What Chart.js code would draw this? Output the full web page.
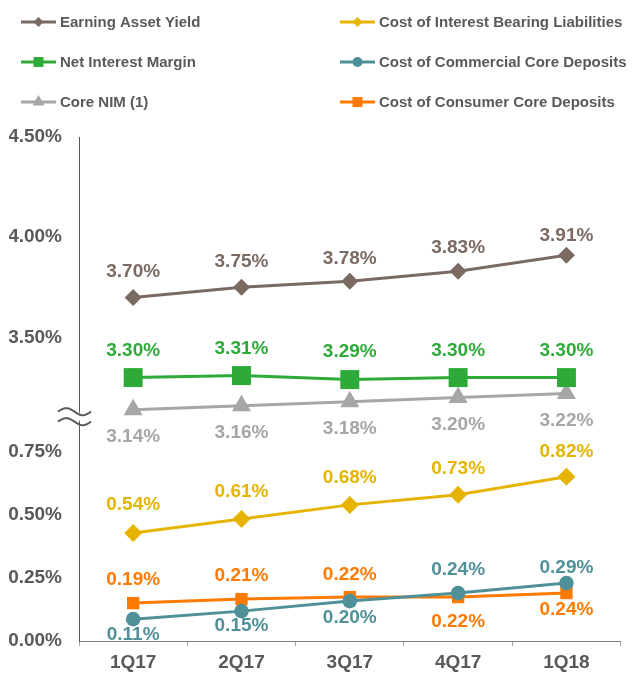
<!DOCTYPE html>
<html>
<head>
<meta charset="utf-8">
<script src="https://cdn.jsdelivr.net/npm/chart.js@4.4.0/dist/chart.umd.min.js"></script>
<style>
  html, body { margin: 0; padding: 0; background: #fff; }
  #wrap { width: 634px; height: 683px; position: relative; }
</style>
</head>
<body>
<div id="wrap"><canvas id="c"></canvas></div>
<script>
// quarters and rates (%)
const quarters = ['1Q17', '2Q17', '3Q17', '4Q17', '1Q18'];
const earningAssetYield = [3.70, 3.75, 3.78, 3.83, 3.91];
const netInterestMargin = [3.30, 3.31, 3.29, 3.30, 3.30];
const coreNim = [3.14, 3.16, 3.18, 3.20, 3.22];
const costInterestBearing = [0.54, 0.61, 0.68, 0.73, 0.82];
const costCommercial = [0.11, 0.15, 0.20, 0.24, 0.29];
const costConsumer = [0.19, 0.21, 0.22, 0.22, 0.24];

// tick labels either side of the axis break
const lowTicks = [0.00, 0.25, 0.50, 0.75];
const highTicks = [3.50, 4.00, 4.50];

// broken axis: upper part is shifted down, lower tick labels are spread out (as on the slide)
const HIGH_SHIFT = 1.985;
const LOW_TICK_STRETCH = 1.26;
const BREAK_AT = 1.12;

const toAxis = v => (v >= 2 ? v - HIGH_SHIFT : v);
const tickDefs = [
  ...lowTicks.map(t => ({ pos: t * LOW_TICK_STRETCH, text: t.toFixed(2) + '%' })),
  ...highTicks.map(t => ({ pos: t - HIGH_SHIFT, text: t.toFixed(2) + '%' }))
];

const TEXT = '#595959';
const FONT = '"Liberation Sans", Arial, sans-serif';

// labelOffsets: pixels from the point to the label centre, negative = above
function series(label, values, color, style, radius, legendRadius, labelOffsets) {
  return {
    label,
    raw: values,
    data: values.map(toAxis),
    borderColor: color,
    backgroundColor: color,
    pointBackgroundColor: color,
    pointBorderColor: color,
    borderWidth: 3,
    pointStyle: style,
    pointRadius: radius,
    pointBorderWidth: 0,
    legendRadius,
    labelOffsets,
    clip: false,
    tension: 0
  };
}

const datasets = [
  series('Earning Asset Yield', earningAssetYield, '#7a6a62', 'rectRot', 8.5, 5, [-26, -26, -23, -24, -20]),
  series('Net Interest Margin', netInterestMargin, '#2eaa38', 'rect', 13.4, 7, [-27, -27, -28, -27, -27]),
  series('Core NIM (1)', coreNim, '#a6a6a6', 'triangle', 11, 7, [27, 27, 27, 27, 27]),
  series('Cost of Interest Bearing Liabilities', costInterestBearing, '#e6b400', 'rectRot', 9, 5, [-28, -27, -27, -26, -25]),
  series('Cost of Commercial Core Deposits', costCommercial, '#4f9099', 'circle', 7.3, 5, [16, 15, 17, -23, -15]),
  series('Cost of Consumer Core Deposits', costConsumer, '#ff7a00', 'rect', 8.7, 7, [-23, -23, -22, 25, 17])
];

// legend in two columns of three
const legendPlugin = {
  id: 'twoColLegend',
  afterDraw(chart) {
    const ctx = chart.ctx;
    const colX = [21, 340];
    const rowY = [22, 62, 102];
    ctx.save();
    chart.data.datasets.forEach((ds, i) => {
      const x = colX[Math.floor(i / 3)];
      const y = rowY[i % 3];
      ctx.strokeStyle = ds.borderColor;
      ctx.lineWidth = 3;
      ctx.beginPath();
      ctx.moveTo(x, y);
      ctx.lineTo(x + 35, y);
      ctx.stroke();
      ctx.fillStyle = ds.borderColor;
      Chart.helpers.drawPoint(ctx, { pointStyle: ds.pointStyle, radius: ds.legendRadius, rotation: 0, borderWidth: 0 }, x + 17.5, y);
      ctx.fillStyle = TEXT;
      ctx.font = 'bold 15px ' + FONT;
      ctx.textAlign = 'left';
      ctx.textBaseline = 'middle';
      ctx.fillText(ds.label, x + 39, y + 1);
    });
    ctx.restore();
  }
};

// value labels above / below each point
const valueLabels = {
  id: 'valueLabels',
  afterDatasetsDraw(chart) {
    const ctx = chart.ctx;
    ctx.save();
    ctx.font = 'bold 19px ' + FONT;
    ctx.textAlign = 'center';
    ctx.textBaseline = 'middle';
    chart.data.datasets.forEach((ds, i) => {
      const meta = chart.getDatasetMeta(i);
      meta.data.forEach((pt, j) => {
        ctx.fillStyle = ds.borderColor;
        ctx.fillText(ds.raw[j].toFixed(2) + '%', pt.x, pt.y + ds.labelOffsets[j]);
      });
    });
    ctx.restore();
  }
};

// the "≈" break mark on the value axis
const axisBreak = {
  id: 'axisBreak',
  afterDraw(chart) {
    const ctx = chart.ctx;
    const y = chart.scales.y.getPixelForValue(BREAK_AT);
    const x0 = chart.chartArea.left - 21;
    const w = 33;
    ctx.save();
    ctx.fillStyle = '#fff';
    ctx.fillRect(chart.chartArea.left - 2, y - 4, 4, 8);
    ctx.strokeStyle = TEXT;
    ctx.lineWidth = 2;
    [-5, 5].forEach(off => {
      ctx.beginPath();
      for (let k = 0; k <= 30; k++) {
        const t = k / 30;
        const px = x0 + t * w;
        const py = y + off - 3.5 * Math.sin(t * Math.PI * 2);
        if (k === 0) ctx.moveTo(px, py); else ctx.lineTo(px, py);
      }
      ctx.stroke();
    });
    ctx.restore();
  }
};

new Chart(document.getElementById('c'), {
  type: 'line',
  data: { labels: quarters, datasets },
  options: {
    responsive: true,
    maintainAspectRatio: false,
    animation: false,
    layout: { padding: { top: 137, left: 9, right: 11, bottom: 4 } },
    plugins: {
      legend: { display: false },
      tooltip: { enabled: false }
    },
    scales: {
      x: {
        offset: true,
        grid: { display: true, offset: true, drawOnChartArea: false, drawTicks: true, tickLength: 5, color: '#a6a6a6' },
        border: { display: true, color: '#7f7f7f', width: 1 },
        ticks: { color: TEXT, font: { family: FONT, size: 19, weight: 'bold' }, padding: 5, maxRotation: 0 }
      },
      y: {
        min: 0,
        max: highTicks[highTicks.length - 1] - HIGH_SHIFT,
        grid: { display: false, drawTicks: false },
        border: { display: true, color: TEXT, width: 1 },
        afterBuildTicks: axis => { axis.ticks = tickDefs.map(d => ({ value: d.pos })); },
        afterFit: axis => { axis.width = 70; },
        ticks: {
          autoSkip: false,
          padding: 17,
          color: TEXT,
          font: { family: FONT, size: 19, weight: 'bold' },
          callback: (v, i) => tickDefs[i].text
        }
      }
    }
  },
  plugins: [legendPlugin, valueLabels, axisBreak]
});
</script>
</body>
</html>
